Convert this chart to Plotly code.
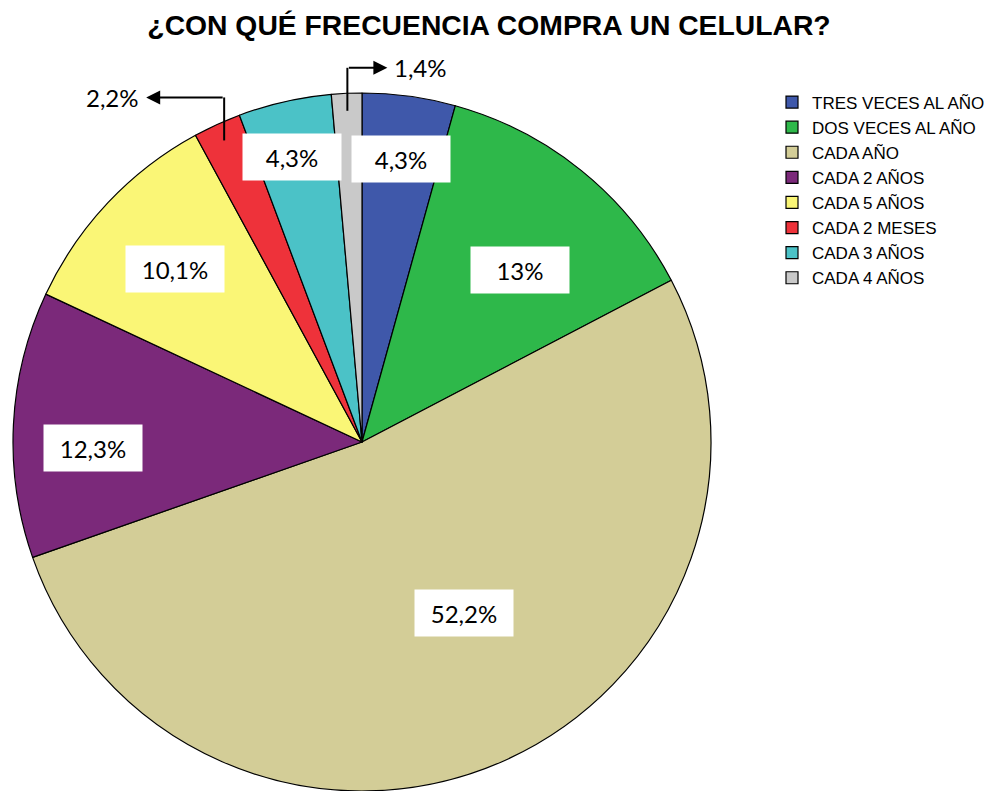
import math
import plotly.graph_objects as go

categories = ["TRES VECES AL AÑO", "DOS VECES AL AÑO", "CADA AÑO", "CADA 2 AÑOS",
              "CADA 5 AÑOS", "CADA 2 MESES", "CADA 3 AÑOS", "CADA 4 AÑOS"]
values = [4.3, 13, 52.2, 12.3, 10.1, 2.2, 4.3, 1.4]
labels_text = ["4,3%", "13%", "52,2%", "12,3%", "10,1%", "2,2%", "4,3%", "1,4%"]
colors = ["#3F58AA", "#2EB84A", "#D3CD97", "#7B297A", "#FAF676", "#EE323A", "#4BC2C7", "#C9C9C9"]
# label placement style: radial fraction / angular nudge (deg) for inside labels;
# callout direction for outside ones
label_r = [0.82, 0.67, 0.57, 0.77, 0.73, None, 0.84, None]
label_shift = [0, 3.5, -7.5, -4, -0.5, 0, -1, 0]
callout_dir = [0, 0, 0, 0, 0, -1, 0, 1]

OFF = 8  # page body margin
W, H = 1006 - OFF, 791 - OFF
cx, cy, R = 362 - OFF, 442.5 - OFF, 349.5  # pixel geometry (figure coords)

fig = go.Figure(go.Pie(
    labels=categories, values=values, sort=False, direction="clockwise", rotation=0,
    marker=dict(colors=colors, line=dict(color="black", width=1.2)),
    textinfo="none", hoverinfo="label+percent",
    domain=dict(x=[(cx - R) / W, (cx + R) / W], y=[0, 1 - (cy - R) / H]),
))

total = sum(values)
cum = 0
annotations = []
shapes = []
for v, t, rf, sh, d in zip(values, labels_text, label_r, label_shift, callout_dir):
    mid = (cum + v / 2) / total * 2 * math.pi + math.radians(sh)
    cum += v
    sx, sy = math.sin(mid), -math.cos(mid)
    if rf is not None:
        px, py = cx + rf * R * sx, cy + rf * R * sy
        annotations.append(dict(x=px / W, y=1 - py / H, xref="paper", yref="paper",
                                xanchor="center", yanchor="middle",
                                text=t, showarrow=False, bgcolor="white",
                                width=96, height=44,
                                font=dict(family="Lato", size=24, color="black")))
    else:
        px, py = cx + 0.95 * R * sx, cy + 0.95 * R * sy
        ey = py - 43
        ex = px + d * (78 if d < 0 else 40)
        shapes.append(dict(type="line", xref="paper", yref="paper",
                           x0=px / W, y0=1 - py / H, x1=px / W, y1=1 - ey / H,
                           line=dict(color="black", width=2)))
        annotations.append(dict(x=ex / W, y=1 - ey / H, ax=px - ex, ay=0,
                                xref="paper", yref="paper", axref="pixel", ayref="pixel",
                                text="", showarrow=True, arrowhead=2, arrowsize=1.4,
                                arrowwidth=2, arrowcolor="black", standoff=0))
        annotations.append(dict(x=(ex + d * 5) / W, y=1 - ey / H, xref="paper", yref="paper",
                                text=t, showarrow=False, yanchor="middle",
                                xanchor="right" if d < 0 else "left",
                                font=dict(family="Lato", size=24, color="black")))

fig.update_layout(
    width=W, height=H,
    margin=dict(l=0, r=0, t=0, b=0),
    paper_bgcolor="white", plot_bgcolor="white",
    title=dict(text="<b>¿CON QUÉ FRECUENCIA COMPRA UN CELULAR?</b>",
               x=(489 - OFF) / W, xanchor="center", y=1 - (25.5 - OFF) / H, yanchor="middle",
               font=dict(family="Liberation Sans, Arial", size=28.3, color="black")),
    legend=dict(x=(772 - OFF) / W, y=1 - (84.5 - OFF) / H, xanchor="left", yanchor="top",
                font=dict(family="Liberation Sans, Arial", size=17, color="black"),
                itemwidth=30, traceorder="normal", bgcolor="rgba(0,0,0,0)"),
    annotations=annotations, shapes=shapes,
)

fig.write_html("out.html")
